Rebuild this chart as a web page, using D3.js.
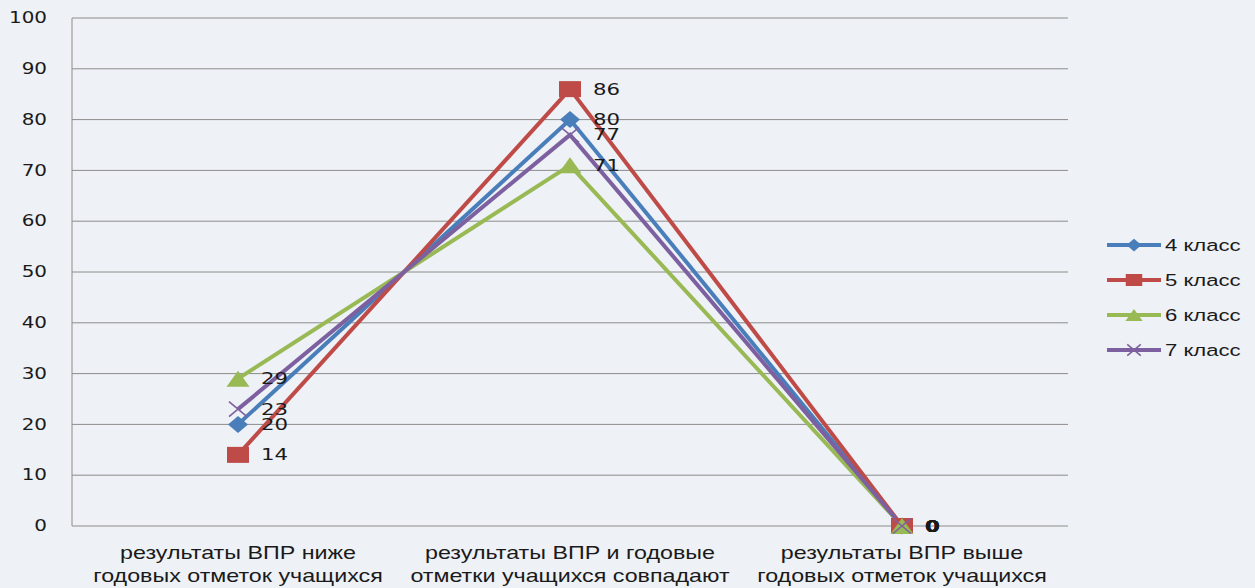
<!DOCTYPE html>
<html><head><meta charset="utf-8">
<script src="https://cdn.jsdelivr.net/npm/d3@7/dist/d3.min.js"></script>
<style>body{margin:0;background:#eef1f5;}svg{display:block;}</style>
</head><body>
<svg id="c" width="1255" height="588"></svg>
<script>
const categories = [
  ["результаты ВПР ниже", "годовых отметок учащихся"],
  ["результаты ВПР и годовые", "отметки учащихся совпадают"],
  ["результаты ВПР выше", "годовых отметок учащихся"]
];
const seriesNames = ["4 класс", "5 класс", "6 класс", "7 класс"];
const s4 = [20, 80, 0];
const s5 = [14, 86, 0];
const s6 = [29, 71, 0];
const s7 = [23, 77, 0];
const yTicks = [0, 10, 20, 30, 40, 50, 60, 70, 80, 90, 100];
const colors = ["#4a7ebb", "#be4b48", "#98b954", "#7d60a0"];
const markers = ["diamond", "square", "triangle", "x"];
const seriesValues = [s4, s5, s6, s7];

const SX = 1.33; // horizontal stretch of the original picture
const svg = d3.select("#c");
const L = 72, R = 1068, T = 18, B = 526;
const x = d3.scaleBand().domain(d3.range(categories.length)).range([L, R]);
const y = d3.scaleLinear().domain([0, 100]).range([B, T]);

svg.append("rect").attr("width",1255).attr("height",588).attr("fill","#eef1f5");

function stretchedText(g, tx, ty, str, opts) {
  const t = g.append("text")
    .attr("transform", `translate(${tx},${ty}) scale(${opts.sx || SX},1)`)
    .attr("text-anchor", opts.anchor || "start")
    .attr("dy", opts.dy || null)
    .attr("font-family", opts.family)
    .attr("font-size", opts.size)
    .attr("font-weight", opts.weight || "normal")
    .attr("fill", "#1a1a1a")
    .text(str);
  return t;
}

// gridlines
svg.append("g").selectAll("line").data(yTicks).join("line")
  .attr("x1", L).attr("x2", R).attr("y1", d=>y(d)).attr("y2", d=>y(d))
  .attr("stroke", "#8c8c8c").attr("stroke-width", 1);
svg.append("line").attr("x1",L).attr("x2",L).attr("y1",T).attr("y2",B).attr("stroke","#8c8c8c");

// y axis labels
const ya = svg.append("g");
yTicks.forEach(d=>stretchedText(ya, 47, y(d), d, {anchor:"end", dy:"0.35em", family:"DejaVu Sans, Verdana, sans-serif", size:15}));

// category labels
const cat = svg.append("g");
categories.forEach((c,i)=>{
  c.forEach((line,j)=>{
    stretchedText(cat, x(i)+x.bandwidth()/2, 559 + j*23, line, {anchor:"middle", family:"'Liberation Sans', Arial, sans-serif", size:17.5, sx:1.33});
  });
});

function drawMarker(g, type, cx, cy, color, hw, hh) {
  if (type==="diamond") {
    g.append("path").attr("d", `M${cx},${cy-hh} L${cx+hw},${cy} L${cx},${cy+hh} L${cx-hw},${cy} Z`).attr("fill", color);
  } else if (type==="square") {
    g.append("rect").attr("x", cx-hw).attr("y", cy-hh).attr("width", 2*hw).attr("height", 2*hh).attr("fill", color);
  } else if (type==="triangle") {
    g.append("path").attr("d", `M${cx},${cy-hh} L${cx+hw},${cy+hh} L${cx-hw},${cy+hh} Z`).attr("fill", color);
  } else {
    g.append("path").attr("d", `M${cx-hw},${cy-hh} L${cx+hw},${cy+hh} M${cx-hw},${cy+hh} L${cx+hw},${cy-hh}`).attr("stroke", color).attr("stroke-width",1.6).attr("fill","none");
  }
}
const mHW = [10, 11, 11.5, 9];
const mHH = [8.5, 8, 8, 7.5];

const line = d3.line().x((d,i)=>x(i)+x.bandwidth()/2).y(d=>y(d));
seriesValues.forEach((vals,k)=>{
  svg.append("path").datum(vals).attr("d", line).attr("fill","none")
    .attr("stroke", colors[k]).attr("stroke-width", 4).attr("stroke-linejoin","miter");
});
seriesValues.forEach((vals,k)=>{
  const g = svg.append("g");
  vals.forEach((v,i)=>drawMarker(g, markers[k], x(i)+x.bandwidth()/2, y(v), colors[k], mHW[k], mHH[k]));
});
// data labels
seriesValues.forEach((vals,k)=>{
  const g = svg.append("g");
  vals.forEach((d,i)=>stretchedText(g, x(i)+x.bandwidth()/2+23, y(d), d, {dy:"0.35em", family:"DejaVu Sans, Verdana, sans-serif", size:16, weight: d===0?"bold":"normal"}));
});

// legend
const lg = svg.append("g");
seriesNames.forEach((n,k)=>{
  const yy = 245 + k*35;
  lg.append("line").attr("x1",1107).attr("x2",1161).attr("y1",yy).attr("y2",yy).attr("stroke",colors[k]).attr("stroke-width",4);
  drawMarker(lg, markers[k], 1134, yy, colors[k], mHW[k]*0.75, mHH[k]*0.75);
  stretchedText(lg, 1165, yy, n, {dy:"0.35em", family:"'Liberation Sans', Arial, sans-serif", size:17, sx:1.3});
});
</script>
</body></html>
